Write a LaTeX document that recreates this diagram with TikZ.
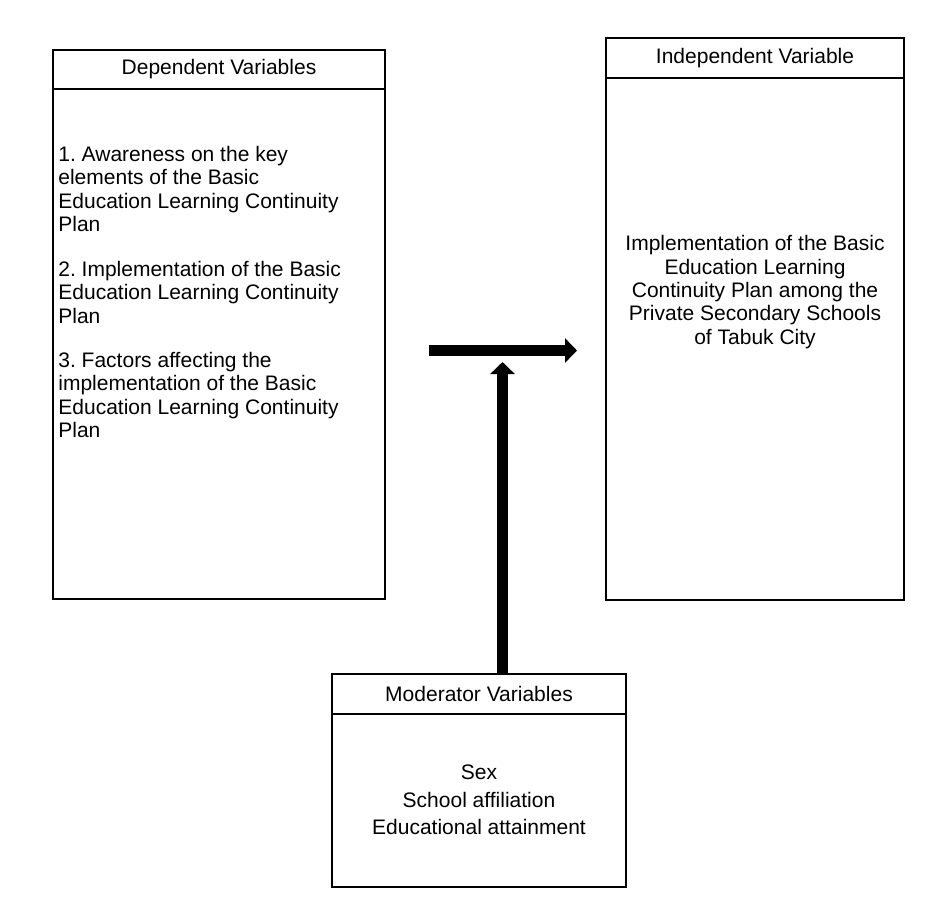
\documentclass[tikz,border=0pt]{standalone}
\usepackage{fontspec}
\setmainfont{Liberation Sans}
\usetikzlibrary{arrows.meta,positioning}
\frenchspacing

\tikzset{
  varhead/.style={draw, line width=1pt, inner sep=0pt, outer sep=0pt,
    font=\fontsize{10.5}{12}\selectfont},
  varbody/.style={draw, line width=1pt, inner sep=0pt, outer sep=0pt},
  vartext/.style={inner sep=0pt, font=\fontsize{10.5}{11.65}\selectfont},
  fatarrow/.style={line width=5.5pt, -{Triangle[length=6pt 0 0,width=12pt 0 0]}}
}

\begin{document}
\begin{tikzpicture}[x=0.5pt, y=-0.5pt]
  \useasboundingbox (0,0) rectangle (929,900);

  % dependent variables (left)
  \node[varhead, minimum width=166pt, minimum height=19.5pt] (dephead) at (219,69.5) {Dependent Variables};
  \node[varbody, minimum width=166pt, minimum height=255pt, below=0pt of dephead] (depbody) {};
  \node[vartext, anchor=north west, align=left] (depone) at (58,146)
    {1. Awareness on the key\\elements of the Basic\\Education Learning Continuity\\Plan};
  \node[vartext, anchor=north west, align=left] (deptwo) at (58,261)
    {2. Implementation of the Basic\\Education Learning Continuity\\Plan};
  \node[vartext, anchor=north west, align=left] (depthree) at (58,352)
    {3. Factors affecting the\\implementation of the Basic\\Education Learning Continuity\\Plan};

  % independent variable (right)
  \node[varhead, minimum width=149pt, minimum height=20pt] (indhead) at (755,58) {Independent Variable};
  \node[varbody, minimum width=149pt, minimum height=261pt, below=0pt of indhead] (indbody) {};
  \node[vartext, align=center] (indtext) at (755,292)
    {Implementation of the Basic\\Education Learning\\Continuity Plan among the\\Private Secondary Schools\\of Tabuk City};

  % moderator variables (bottom)
  \node[varhead, minimum width=147pt, minimum height=20pt] (modhead) at (479,694) {Moderator Variables};
  \node[varbody, minimum width=147pt, minimum height=86.5pt, below=0pt of modhead] (modbody) {};
  \node[vartext, align=center, font=\fontsize{10.5}{13.75}\selectfont] (modtext) at (479,800)
    {Sex\\School affiliation\\Educational attainment};

  % arrows
  \coordinate (hstart) at (429,350.5);
  \coordinate (hend) at (577,350.5);
  \coordinate (vtip) at (502.5,362);
  \draw[fatarrow] (hstart) -- (hend);
  \draw[fatarrow] (modhead.north -| vtip) -- (vtip);

\end{tikzpicture}
\end{document}
